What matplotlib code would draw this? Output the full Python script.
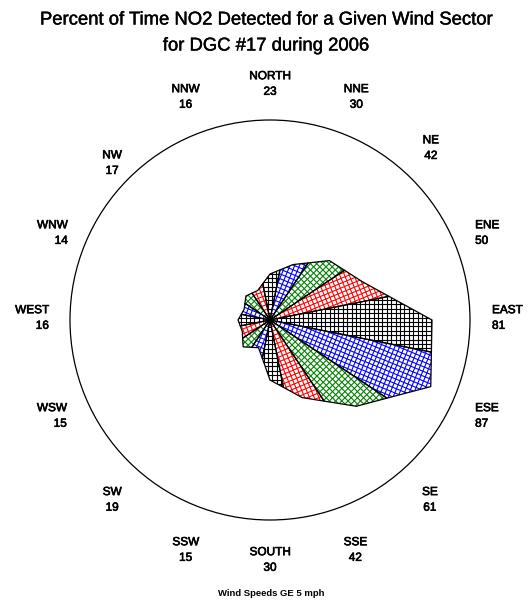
import numpy as np
import matplotlib
matplotlib.use('Agg')
import matplotlib.pyplot as plt
import matplotlib.patheffects as pe
from matplotlib.patches import Polygon, Circle

# wind sectors, clockwise from north
sectors = ['NORTH', 'NNE', 'NE', 'ENE', 'EAST', 'ESE', 'SE', 'SSE',
           'SOUTH', 'SSW', 'SW', 'WSW', 'WEST', 'WNW', 'NW', 'NNW']
percents = [23, 30, 42, 50, 81, 87, 61, 42, 30, 15, 19, 15, 16, 14, 17, 16]
hatch_colors = ['black', 'blue', 'green', 'red']

title1 = 'Percent of Time NO2 Detected for a Given Wind Sector'
title2 = 'for DGC #17 during 2006'
footnote = 'Wind Speeds GE 5 mph'

# small label nudges in pixels (right, down) to follow the original layout
label_nudge = {'NNE': (-4, -5), 'NE': (-6, -5), 'ENE': (0, -2), 'EAST': (0, -2),
               'ESE': (0, 11), 'SE': (-7, 13), 'SSE': (-5, 12), 'SOUTH': (0, 4),
               'SSW': (6, 12), 'SW': (9, 13), 'WSW': (2, 11), 'WEST': (1, -2),
               'WNW': (3, -2), 'NW': (9, 10), 'NNW': (6, -5)}

W, H = 532, 614
cx, cy = 270, 320      # centre of the rose in pixels (from top)
ppu = 2.0              # pixels per percent

plt.rcParams['font.family'] = ['Liberation Sans', 'DejaVu Sans']
heavy = [pe.withStroke(linewidth=0.45, foreground='black')]
title_fx = [pe.withStroke(linewidth=0.3, foreground='black')]

fig = plt.figure(figsize=(W / 100, H / 100), dpi=100)
ax = fig.add_axes([0, 0, 1, 1])
ax.set_xlim(-cx / ppu, (W - cx) / ppu)
ax.set_ylim(-(H - cy) / ppu, cy / ppu)
ax.axis('off')

# outer circle = 100 percent
ax.add_patch(Circle((0, 0), 100, fill=False, ec='black', lw=0.9))

n = len(sectors)
angles = np.radians(90 - np.arange(n) * 360 / n)
verts = np.column_stack([np.array(percents) * np.cos(angles),
                         np.array(percents) * np.sin(angles)])
half = np.radians(360 / n / 2)


def cross(a, b):
    return a[0] * b[1] - a[1] * b[0]


def ray_hit(phi, p, q):
    # where the ray from the centre at angle phi crosses segment p-q
    d = np.array([np.cos(phi), np.sin(phi)])
    t = cross(d, p) / cross(q - p, d)
    return p + t * (q - p)


spacing = 2.2
for i, (name, pct) in enumerate(zip(sectors, percents)):
    a = angles[i]
    prev_v = verts[(i - 1) % n]
    next_v = verts[(i + 1) % n]
    pts = [(0, 0),
           ray_hit(a - half, verts[i], next_v),
           verts[i],
           ray_hit(a + half, verts[i], prev_v)]
    col = hatch_colors[i % 4]
    poly = Polygon(pts, closed=True, fill=False, ec='none')
    ax.add_patch(poly)
    # grid hatch aligned with the sector direction
    u = np.array([np.cos(a), np.sin(a)])
    v = np.array([-np.sin(a), np.cos(a)])
    ext = 100
    for k in np.arange(-ext, ext + spacing, spacing):
        for d1, d2 in ((u, v), (v, u)):
            p0 = k * d2 - ext * d1
            p1 = k * d2 + ext * d1
            ln, = ax.plot([p0[0], p1[0]], [p0[1], p1[1]], color=col, lw=0.8)
            ln.set_clip_path(poly)
    ax.add_patch(Polygon(pts, closed=True, fill=False, ec='black', lw=0.9, zorder=3))

    # sector label
    c, s = np.cos(a), np.sin(a)
    if abs(c) > 0.9:
        r_lab = 111
        ha = 'left' if c > 0 else 'right'
    else:
        r_lab = 118
        ha = 'center'
    ndx, ndy = label_nudge.get(name, (0, 0))
    lx = r_lab * c + ndx / ppu
    ly = r_lab * s - ndy / ppu
    ax.text(lx, ly, f'{name}\n{pct}', ha=ha, va='center', fontsize=8.5,
            linespacing=1.4, path_effects=heavy)

fig.text(266 / W, 1 - 20 / H, title1, ha='center', va='center', fontsize=13.3,
         path_effects=title_fx)
fig.text(266 / W, 1 - 46 / H, title2, ha='center', va='center', fontsize=13.3,
         path_effects=title_fx)
fig.text(271 / W, 1 - 594 / H, footnote, ha='center', va='center',
         fontsize=6.8, fontweight='bold')

fig.savefig('out.png', dpi=100)
